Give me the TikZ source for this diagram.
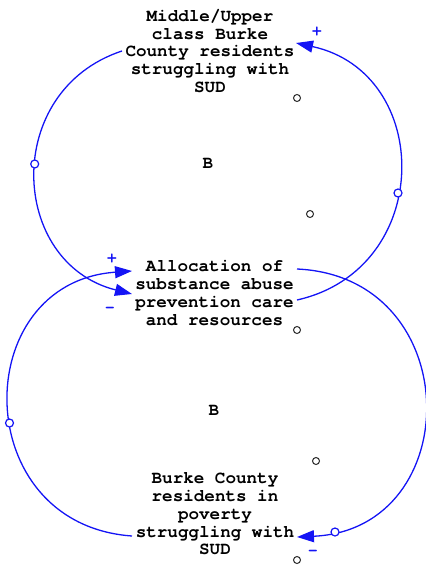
\documentclass[tikz,border=0pt]{standalone}
\usepackage{fontspec}
\usetikzlibrary{arrows.meta}
\newfontfamily\varfont{texgyrecursor-bold.otf}
\definecolor{linkblue}{RGB}{20,20,245}
\definecolor{dotgray}{RGB}{40,40,40}

\tikzset{
  var/.style={font=\varfont\fontsize{17.6pt}{17.8pt}\selectfont, align=center, text=black, inner sep=0pt},
  looplabel/.style={font=\varfont\fontsize{17.6pt}{17.8pt}\selectfont, text=black, inner sep=0pt},
  link/.style={draw=linkblue, line width=1.3pt, -{Triangle[length=17pt,width=12pt]}},
  handle/.style={circle, draw=linkblue, fill=white, line width=1.2pt, minimum size=8pt, inner sep=0pt},
  dotmark/.style={circle, draw=dotgray, line width=1pt, minimum size=7pt, inner sep=0pt},
  polarity/.style={text=linkblue, font=\varfont\fontsize{16pt}{16pt}\selectfont, inner sep=0pt},
}

\begin{document}
\begin{tikzpicture}[x=1pt,y=1pt]
  \useasboundingbox (0,0) rectangle (425,-569);

  % variables
  \node[var] (upper) at (210,-51) {Middle/Upper\\class Burke\\County residents\\struggling with\\SUD};
  \node[var] (alloc) at (214.5,-293) {Allocation of\\substance abuse\\prevention care\\and resources};
  \node[var] (poor) at (215,-514) {Burke County\\residents in\\poverty\\struggling with\\SUD};

  % end points of the causal links
  \coordinate (aS) at (122,-51);
  \coordinate (aT) at (132,-294);
  \coordinate (bS) at (297,-300);
  \coordinate (bT) at (296,-43);
  \coordinate (cS) at (297,-269);
  \coordinate (cT) at (297,-537);
  \coordinate (dS) at (132,-536);
  \coordinate (dT) at (132,-271);

  % causal links (circular arcs)
  \draw[link] (aS) to[out=198.25, in=165.97, looseness=1.332] (aT);
  \draw[link] (bS) to[out=12.7, in=-12.24, looseness=1.401] (bT);
  \draw[link] (cS) to[out=-2.6, in=2.6, looseness=1.629] (cT);
  \draw[link] (dS) to[out=175.94, in=184.06, looseness=1.590] (dT);

  % arc handles
  \node[handle] (hA) at (34.7,-164) {};
  \node[handle] (hB) at (398,-193) {};
  \node[handle] (hC) at (335,-532) {};
  \node[handle] (hD) at (9.5,-423) {};

  % polarities
  \node[polarity] (pA) at (110,-310) {-};
  \node[polarity] (pB) at (317,-32) {+};
  \node[polarity] (pC) at (313,-553) {-};
  \node[polarity] (pD) at (112,-258) {+};

  % loop identifiers
  \node[looplabel] (loop1) at (208,-163) {B};
  \node[looplabel] (loop2) at (214,-410) {B};

  % small markers
  \node[dotmark] (m1) at (297,-98) {};
  \node[dotmark] (m2) at (310,-214) {};
  \node[dotmark] (m3) at (297,-330) {};
  \node[dotmark] (m4) at (316,-461) {};
  \node[dotmark] (m5) at (297,-560) {};
\end{tikzpicture}
\end{document}
